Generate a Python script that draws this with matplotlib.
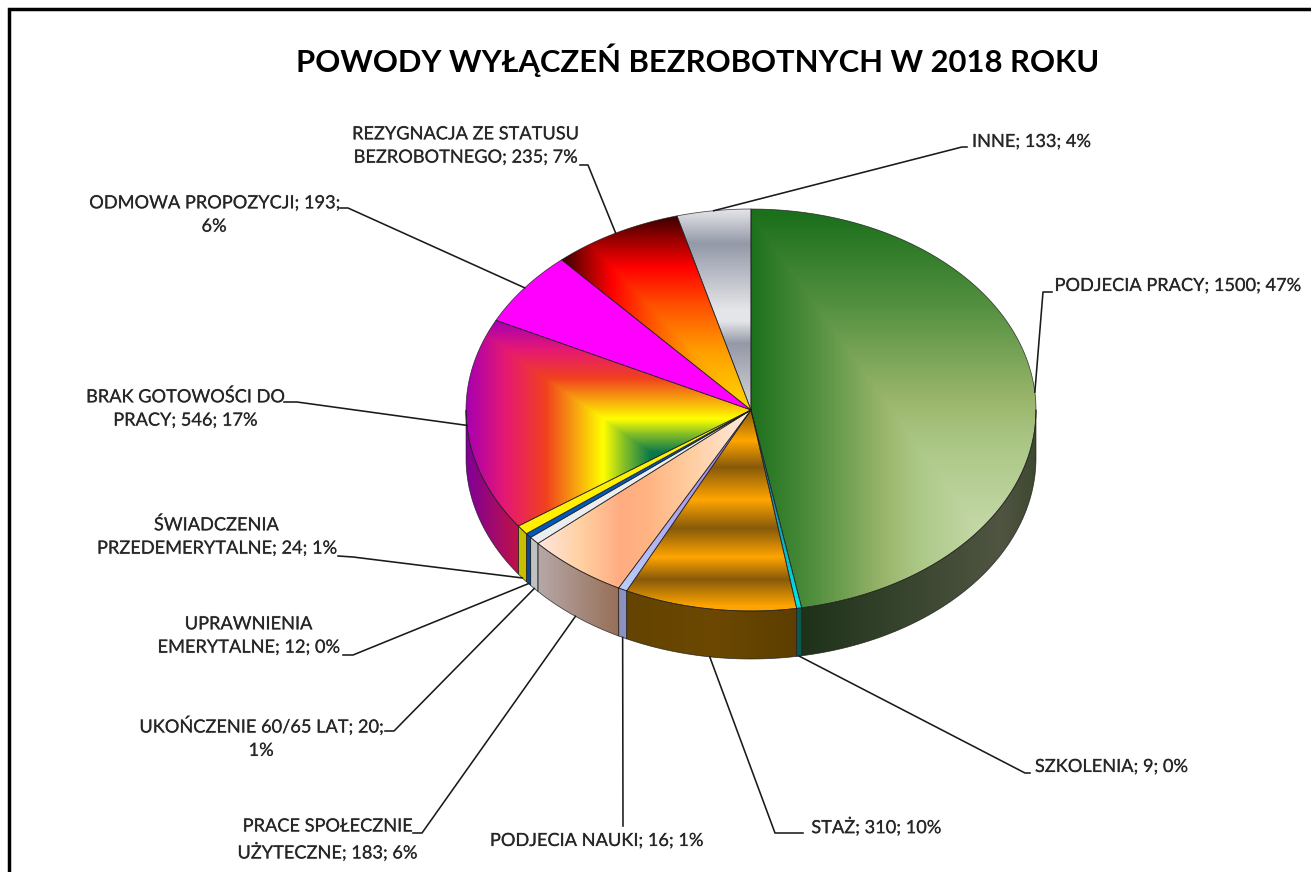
import numpy as np
import matplotlib
matplotlib.use('Agg')
import matplotlib.pyplot as plt
import matplotlib.patheffects as pe
from matplotlib.colors import LinearSegmentedColormap
from matplotlib.patches import PathPatch
from matplotlib.path import Path

plt.rcParams['font.family'] = ['Lato', 'DejaVu Sans']

title = 'POWODY WYŁĄCZEŃ BEZROBOTNYCH W 2018 ROKU'
categories = ['PODJECIA PRACY', 'SZKOLENIA', 'STAŻ', 'PODJECIA NAUKI', 'PRACE SPOŁECZNIE UŻYTECZNE',
              'UKOŃCZENIE 60/65 LAT', 'UPRAWNIENIA EMERYTALNE', 'ŚWIADCZENIA PRZEDEMERYTALNE',
              'BRAK GOTOWOŚCI DO PRACY', 'ODMOWA PROPOZYCJI', 'REZYGNACJA ZE STATUSU BEZROBOTNEGO', 'INNE']
values = [1500, 9, 310, 16, 183, 20, 12, 24, 546, 193, 235, 133]
labels = ['PODJECIA PRACY; 1500; 47%', 'SZKOLENIA; 9; 0%', 'STAŻ; 310; 10%', 'PODJECIA NAUKI; 16; 1%',
          'PRACE SPOŁECZNIE\nUŻYTECZNE; 183; 6%', 'UKOŃCZENIE 60/65 LAT; 20;\n1%',
          'UPRAWNIENIA\nEMERYTALNE; 12; 0%', 'ŚWIADCZENIA\nPRZEDEMERYTALNE; 24; 1%',
          'BRAK GOTOWOŚCI DO\nPRACY; 546; 17%', 'ODMOWA PROPOZYCJI; 193;\n6%',
          'REZYGNACJA ZE STATUSU\nBEZROBOTNEGO; 235; 7%', 'INNE; 133; 4%']

# pie geometry in pixels, the axes below run in image pixels
cx, cy = 751, 410
rx, ry = 285, 201
depth = 48

# label centre, then the leader bend points from the label towards the pie
label_pos = [(1177, 286), (1111, 767), (876, 827), (596, 841),
             (327, 840), (261, 738), (248, 636), (216, 537),
             (185, 409), (214, 215), (465, 146), (1031, 142)]
leaders = [[(1052, 292), (1043, 292)], [(1030, 773), (1025, 773)], [(803, 833), (775, 833)], [(623, 826)],
           [(413, 833), (422, 833)], [(385, 731), (394, 731)], [(343, 655), (353, 655)], [(338, 556), (353, 557)],
           [(284, 402), (297, 402)], [(340, 208), (348, 208)], [(580, 165), (588, 165)], [(967, 147), (962, 147)]]
anchor_on_top = [True, False, False, False, False, False, False, False, True, True, True, True]


def rgb(*c):
    return tuple(v / 255 for v in c)


def cmap(stops):
    return LinearSegmentedColormap.from_list('g', [(p, rgb(*c)) for p, c in stops], N=512)


def horizontal(x0, x1):
    return lambda X, Y: (X - x0) / (x1 - x0)


def vertical(y0, y1):
    return lambda X, Y: (Y - y0) / (y1 - y0)


def box(x0, y0, a, b):
    # rectangular "path" gradient like the one Excel makes
    return lambda X, Y: np.maximum((x0 - X) / a, (y0 - Y) / b)


ORANGE = (255, 165, 0)
BROWN = (135, 90, 10)
GREY_L = (228, 229, 232)
GREY_D = (148, 153, 168)

# top face of each slice: gradient function, colour stops
top_styles = [
    (box(975, 525, 225, 310), [(0, (195, 215, 165)), (.25, (172, 200, 135)), (.4, (155, 182, 108)),
                               (.7, (85, 145, 65)), (1, (28, 112, 28))]),
    (vertical(430, 600), [(0, (30, 90, 150)), (1, (0, 225, 225))]),
    (vertical(410, 615), [(0, BROWN), (.15, ORANGE), (.28, BROWN), (.44, ORANGE), (.58, BROWN),
                          (.72, ORANGE), (.83, BROWN), (.96, ORANGE), (1, ORANGE)]),
    (vertical(420, 590), [(0, (165, 120, 225)), (1, (185, 205, 250))]),
    (horizontal(540, 745), [(0, (255, 228, 220)), (.2, (255, 208, 160)), (.39, (255, 172, 130)),
                            (.53, (255, 180, 130)), (.73, (255, 205, 160)), (1, (255, 232, 218))]),
    (horizontal(530, 740), [(0, (235, 238, 238)), (1, (235, 238, 238))]),
    (horizontal(520, 740), [(0, (0, 90, 190)), (1, (0, 90, 190))]),
    (horizontal(520, 740), [(0, (255, 240, 0)), (1, (255, 240, 0))]),
    (box(650, 453, 183, 130), [(0, (10, 120, 75)), (.14, (130, 190, 40)), (.257, (255, 255, 0)),
                               (.57, (240, 65, 30)), (.79, (230, 25, 115)), (1, (170, 0, 175))]),
    (horizontal(490, 750), [(0, (255, 0, 255)), (1, (255, 0, 255))]),
    (box(751, 410, 186, 190), [(0, (255, 215, 0)), (.3, (255, 160, 0)), (.55, (255, 80, 0)),
                               (.75, (255, 0, 0)), (.9, (150, 0, 0)), (1, (70, 0, 0))]),
    (vertical(210, 410), [(0, GREY_L), (.17, GREY_D), (.5, GREY_L), (.56, GREY_L), (.67, GREY_D), (1, (215, 215, 215))]),
]
# outer wall of each slice, only the front ones show
side_styles = [
    (horizontal(800, 1036), [(0, (30, 50, 25)), (.85, (80, 85, 65)), (1, (62, 72, 48))]),
    (horizontal(790, 810), [(0, (10, 90, 85)), (1, (10, 90, 85))]),
    (horizontal(630, 800), [(0, (100, 68, 0)), (.5, (108, 72, 2)), (1, (92, 62, 0))]),
    (horizontal(620, 630), [(0, (140, 145, 190)), (1, (140, 145, 190))]),
    (horizontal(540, 620), [(0, (182, 166, 166)), (1, (150, 110, 85))]),
    (horizontal(530, 540), [(0, (190, 195, 195)), (1, (190, 195, 195))]),
    (horizontal(525, 535), [(0, (10, 70, 150)), (1, (10, 70, 150))]),
    (horizontal(520, 530), [(0, (200, 190, 0)), (1, (200, 190, 0))]),
    (horizontal(467, 522), [(0, (130, 0, 150)), (1, (195, 20, 65))]),
    None,
    None,
    None,
]


def ell(theta, down=0):
    # theta runs clockwise from the top of the pie
    return cx + rx * np.sin(theta), cy - ry * np.cos(theta) + down


def fill_gradient(ax, verts, style):
    func, stops = style
    verts = np.array(verts)
    patch = PathPatch(Path(np.vstack([verts, verts[:1]]), closed=True), facecolor='none', edgecolor='none')
    ax.add_patch(patch)
    x0, y0 = np.floor(verts.min(axis=0)) - 1
    x1, y1 = np.ceil(verts.max(axis=0)) + 1
    X, Y = np.meshgrid(np.arange(x0, x1 + 1), np.arange(y0, y1 + 1))
    t = np.clip(func(X, Y), 0, 1)
    im = ax.imshow(t, cmap=cmap(stops), vmin=0, vmax=1, extent=(x0 - .5, x1 + .5, y1 + .5, y0 - .5),
                   interpolation='bilinear', aspect='auto', zorder=2)
    im.set_clip_path(patch)
    ax.plot(np.append(verts[:, 0], verts[0, 0]), np.append(verts[:, 1], verts[0, 1]),
            color='#1c1c1c', lw=0.55, alpha=0.8, zorder=3, solid_joinstyle='round')


fig = plt.figure(figsize=(13.11, 8.72), dpi=100)
ax = fig.add_axes([0, 0, 1, 1])

edges = np.cumsum([0] + values) / sum(values) * 2 * np.pi

# walls first
for i, style in enumerate(side_styles):
    a, b = max(edges[i], np.pi / 2), min(edges[i + 1], 3 * np.pi / 2)
    if style is None or a >= b:
        continue
    th = np.linspace(a, b, 80)
    upper = np.column_stack(ell(th))
    lower = np.column_stack(ell(th[::-1], depth))
    fill_gradient(ax, np.vstack([upper, lower]), style)

# top faces
for i, style in enumerate(top_styles):
    th = np.linspace(edges[i], edges[i + 1], max(int((edges[i + 1] - edges[i]) * 80), 4))
    arc = np.column_stack(ell(th))
    fill_gradient(ax, np.vstack([[(cx, cy)], arc]), style)

# soft shadow the labels have in the original
shadow = [pe.withStroke(linewidth=1.0, foreground=(0, 0, 0, 0.08))]

# leaders and labels
for i, lab in enumerate(labels):
    mid = (edges[i] + edges[i + 1]) / 2
    end = ell(mid, 0 if anchor_on_top[i] else depth)
    pts = leaders[i] + [end]
    ax.plot([p[0] for p in pts], [p[1] for p in pts], color='#1a1a1a', lw=1.15, zorder=4)
    ax.text(label_pos[i][0], label_pos[i][1], lab, ha='center', va='center', fontsize=13.1,
            color='#262626', linespacing=1.56, zorder=5, path_effects=shadow)

ax.text(698, 60, title, ha='center', va='center', fontsize=22.3, fontweight='bold', color='black', zorder=5)

# picture frame, only left and top are inside the crop
ax.plot([9, 9, 1311], [872, 9, 9], color='black', lw=2.5, zorder=6, solid_joinstyle='miter')

ax.set_xlim(0, 1311)
ax.set_ylim(872, 0)
ax.axis('off')
fig.savefig('out.png', dpi=100, facecolor='white')
